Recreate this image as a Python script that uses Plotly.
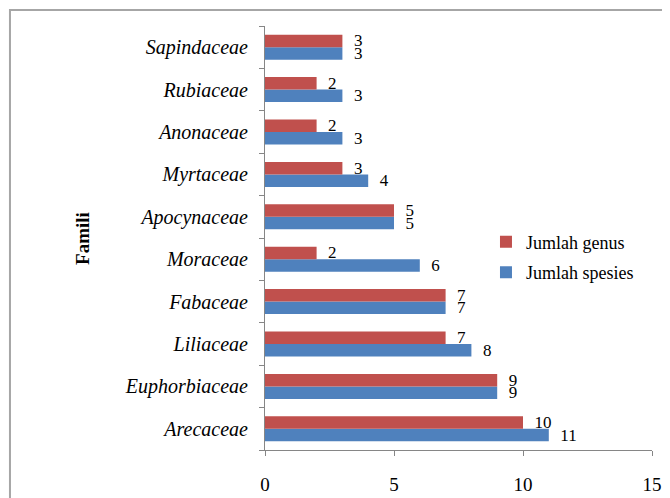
import plotly.graph_objects as go

families = ["Arecaceae", "Euphorbiaceae", "Liliaceae", "Fabaceae", "Moraceae",
            "Apocynaceae", "Myrtaceae", "Anonaceae", "Rubiaceae", "Sapindaceae"]
jumlah_genus = [10, 9, 7, 7, 2, 5, 3, 2, 2, 3]
jumlah_spesies = [11, 9, 8, 7, 6, 5, 4, 3, 3, 3]
x_ticks = [0, 5, 10, 15]

FONT = "Liberation Serif, Times New Roman, serif"
BLUE = "#4F81BD"
RED = "#C0504D"
LABEL_TEMPLATE = "\u00a0\u00a0%{x}"

fig = go.Figure()
fig.add_trace(go.Bar(
    y=families, x=jumlah_spesies, orientation="h", name="Jumlah spesies",
    legendgroup="s", legendrank=2,
    marker=dict(color=BLUE, line=dict(width=0)),
    texttemplate=LABEL_TEMPLATE, textposition="outside", cliponaxis=False,
    constraintext="none",
    textfont=dict(family=FONT, size=17, color="black"),
))
fig.add_trace(go.Bar(
    y=families, x=jumlah_genus, orientation="h", name="Jumlah genus",
    legendgroup="g", legendrank=1,
    marker=dict(color=RED, line=dict(width=0)),
    texttemplate=LABEL_TEMPLATE, textposition="outside", cliponaxis=False,
    constraintext="none",
    textfont=dict(family=FONT, size=17, color="black"),
))

fig.update_layout(
    width=662, height=490,
    margin=dict(l=257, r=18, t=18, b=48),
    paper_bgcolor="white", plot_bgcolor="white",
    barmode="group", bargap=0.41, bargroupgap=0,
    font=dict(family=FONT, size=17, color="black"),
    showlegend=True,
    legend=dict(x=0.571, y=0.534, xanchor="left", yanchor="top",
                traceorder="grouped", font=dict(family=FONT, size=18),
                bgcolor="rgba(0,0,0,0)", itemwidth=30, tracegroupgap=4),
    xaxis=dict(range=[0, 15], tickvals=x_ticks, showgrid=False, zeroline=False,
               showline=True, linecolor="#868686", linewidth=1,
               ticks="outside", ticklen=5, tickcolor="#868686",
               ticklabelstandoff=12, automargin=False,
               tickfont=dict(family=FONT, size=19)),
    yaxis=dict(type="category", categoryorder="array", categoryarray=families,
               showgrid=False, showline=True, linecolor="#868686", linewidth=1,
               ticks="outside", ticklen=5, tickcolor="#868686",
               tickson="boundaries", ticklabelstandoff=12, automargin=False,
               tickfont=dict(family=FONT, size=20, style="italic")),
    annotations=[dict(text="<b>Famili</b>", textangle=-90, x=-0.473, y=0.5,
                      xref="paper", yref="paper", xanchor="center", yanchor="middle",
                      showarrow=False, font=dict(family=FONT, size=19))],
    shapes=[dict(type="rect", xref="paper", yref="paper",
                 x0=-0.659, x1=1.1, y0=-0.25, y1=1.0377,
                 line=dict(color="#A6A6A6", width=2), layer="below")],
)

fig.write_html("out.html")
